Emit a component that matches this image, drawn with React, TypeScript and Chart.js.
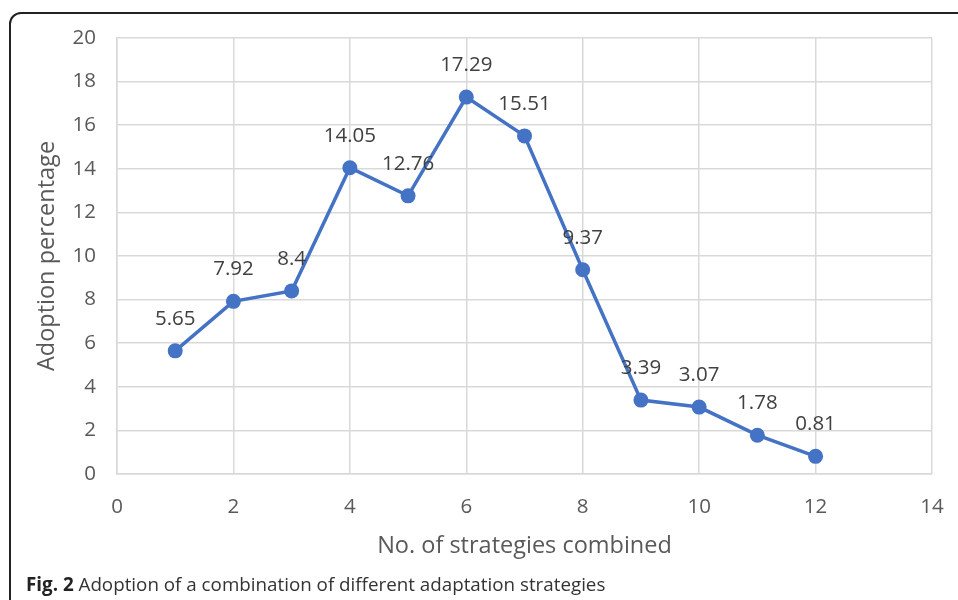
import React, { useEffect, useRef } from "react";
import { Chart, registerables } from "chart.js";

Chart.register(...registerables);

const strategies = [1, 2, 3, 4, 5, 6, 7, 8, 9, 10, 11, 12];
const adoption = [5.65, 7.92, 8.4, 14.05, 12.76, 17.29, 15.51, 9.37, 3.39, 3.07, 1.78, 0.81];
const pointLabels = ["5.65", "7.92", "8.4", "14.05", "12.76", "17.29", "15.51", "9.37", "3.39", "3.07", "1.78", "0.81"];

const FONT = "'Open Sans', 'DejaVu Sans', sans-serif";

const labelPlugin = {
  id: "pointLabels",
  afterDatasetsDraw(chart: any) {
    const ctx = chart.ctx;
    const meta = chart.getDatasetMeta(0);
    ctx.save();
    ctx.font = `20.5px ${FONT}`;
    ctx.fillStyle = "#404040";
    ctx.textAlign = "center";
    ctx.textBaseline = "middle";
    meta.data.forEach((el: any, i: number) => {
      ctx.fillText(pointLabels[i], el.x, el.y - 32);
    });
    ctx.restore();
  },
};

export default function App() {
  const ref = useRef<HTMLCanvasElement>(null);
  useEffect(() => {
    if (!ref.current) return;
    const chart = new Chart(ref.current, {
      type: "scatter",
      data: {
        datasets: [
          {
            data: strategies.map((x, i) => ({ x, y: adoption[i] })),
            showLine: true,
            borderColor: "#4472C4",
            backgroundColor: "#4472C4",
            borderWidth: 3.5,
            pointRadius: 7.5,
            pointBorderWidth: 0,
          },
        ],
      },
      options: {
        animation: false,
        responsive: false,
        layout: { padding: { top: 38, right: 26, left: 0, bottom: 0 } },
        plugins: { legend: { display: false }, tooltip: { enabled: false } },
        scales: {
          x: {
            type: "linear",
            min: 0,
            max: 14,
            ticks: { stepSize: 2, color: "#595959", font: { size: 20.5, family: FONT }, padding: 21 },
            grid: { color: "#d9d9d9", lineWidth: 1.5, drawTicks: false },
            border: { display: true, color: "#d9d9d9", width: 1.5 },
            title: {
              display: true,
              text: "No. of strategies combined",
              color: "#595959",
              font: { size: 23.5, family: FONT },
              padding: { top: 0, bottom: 40 },
            },
            afterFit(scale: any) {
              scale.height = 126;
              scale.paddingRight = 0;
              scale.paddingLeft = 0;
            },
          },
          y: {
            min: 0,
            max: 20,
            ticks: { stepSize: 2, color: "#595959", font: { size: 20.5, family: FONT }, padding: 21 },
            grid: { color: "#d9d9d9", lineWidth: 1.5, drawTicks: false },
            border: { display: true, color: "#d9d9d9", width: 1.5 },
            title: {
              display: true,
              text: "Adoption percentage",
              color: "#595959",
              font: { size: 23.5, family: FONT },
              padding: { top: 33, bottom: 0 },
            },
            afterFit(scale: any) {
              scale.width = 117;
              scale.paddingTop = 0;
              scale.paddingBottom = 0;
            },
          },
        },
      },
      plugins: [labelPlugin],
    });
    return () => chart.destroy();
  }, []);

  return (
    <div style={{ position: "fixed", left: 0, top: 0, width: 958, height: 600, background: "#fff", overflow: "hidden" }}>
      <div
        style={{
          position: "absolute",
          left: 9,
          top: 12,
          width: 1000,
          height: 700,
          border: "2px solid #222",
          borderTopLeftRadius: 12,
          boxSizing: "border-box",
        }}
      />
      <canvas ref={ref} width={958} height={600} style={{ position: "absolute", left: 0, top: 0 }} />
      <div
        style={{
          position: "absolute",
          left: 26,
          top: 570,
          fontFamily: FONT,
          fontSize: 18.8,
          color: "#333",
          whiteSpace: "nowrap",
          lineHeight: "28px",
        }}
      >
        <b style={{ color: "#222" }}>Fig. 2</b> Adoption of a combination of different adaptation strategies
      </div>
    </div>
  );
}
